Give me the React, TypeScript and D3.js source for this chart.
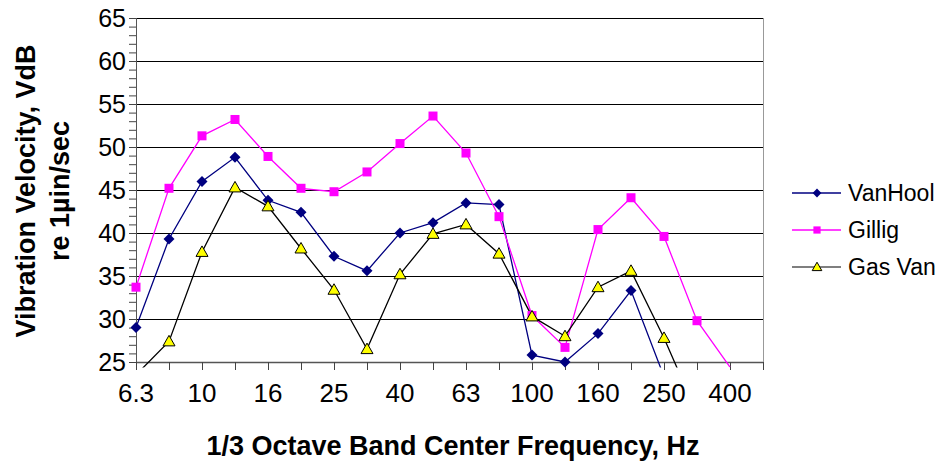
import React, { useEffect, useRef } from "react";
import * as d3 from "d3";

const freqs = ["6.3", "8", "10", "12.5", "16", "20", "25", "31.5", "40", "50", "63", "80", "100", "125", "160", "200", "250", "315", "400", "500"];
const vanHool = [29.0, 39.3, 46.0, 48.8, 43.8, 42.4, 37.3, 35.6, 40.0, 41.2, 43.5, 43.3, 25.8, 25.0, 28.3, 33.3, 23.3, null, null, null];
const gillig = [33.7, 45.2, 51.3, 53.2, 48.9, 45.2, 44.8, 47.1, 50.4, 53.6, 49.3, 41.9, 30.4, 26.7, 40.4, 44.1, 39.6, 29.8, 24.4, null];
const gasVan = [23.5, 27.4, 37.8, 45.3, 43.1, 38.2, 33.4, 26.5, 35.2, 39.9, 41.0, 37.6, 30.3, 28.0, 33.7, 35.6, 27.8, 19.0, null, null];
const yTicks = [25, 30, 35, 40, 45, 50, 55, 60, 65];

const seriesList = [
  { name: "VanHool", values: vanHool, color: "#000080", marker: "diamond", fill: "#000080", legendLine: "#000080" },
  { name: "Gillig", values: gillig, color: "#FF00FF", marker: "square", fill: "#FF00FF", legendLine: "#FF00FF" },
  { name: "Gas Van", values: gasVan, color: "#000000", marker: "triangle", fill: "#FFFF00", legendLine: "#555555" },
];

const FONT = "'Liberation Sans', Arial, sans-serif";

const App = () => {
  const ref = useRef<SVGSVGElement>(null);

  useEffect(() => {
    document.body.style.margin = "0";
    const width = 940;
    const height = 469;
    const margin = { top: 18, right: 177, bottom: 107, left: 136 };

    const svg = d3.select(ref.current);
    svg.selectAll("*").remove();
    svg.attr("width", width).attr("height", height);

    const x = d3.scalePoint<string>().domain(freqs).range([margin.left, width - margin.right]);
    const y = d3.scaleLinear().domain([25, 65]).range([height - margin.bottom, margin.top]);
    const x0 = margin.left;
    const x1 = width - margin.right;
    const yb = height - margin.bottom;

    svg.append("defs").append("clipPath").attr("id", "plotclip")
      .append("rect")
      .attr("x", x0 - 10).attr("y", margin.top)
      .attr("width", x1 - x0 + 10).attr("height", yb - margin.top + 5.5);

    // gridlines
    svg.append("g")
      .selectAll("line")
      .data(yTicks.slice(1))
      .join("line")
      .attr("x1", x0).attr("x2", x1)
      .attr("y1", d => Math.round(y(d)) + 0.5).attr("y2", d => Math.round(y(d)) + 0.5)
      .attr("stroke", "#000").attr("stroke-width", 1);

    // right border
    svg.append("line")
      .attr("x1", x1 + 0.5).attr("x2", x1 + 0.5)
      .attr("y1", margin.top).attr("y2", yb)
      .attr("stroke", "#999");

    // y axis with minor ticks
    const yAxis = svg.append("g").attr("transform", `translate(${x0},0)`);
    yAxis.append("g")
      .call(d3.axisLeft(y).ticks(40).tickSize(7).tickFormat(() => ""))
      .call(g => g.select(".domain").remove())
      .call(g => g.selectAll("line").attr("stroke", "#444"));
    yAxis.append("line").attr("x1", 0.5).attr("x2", 0.5).attr("y1", margin.top).attr("y2", yb).attr("stroke", "#555");
    yAxis.selectAll("text.lbl")
      .data(yTicks)
      .join("text")
      .attr("class", "lbl")
      .attr("x", -10)
      .attr("y", d => y(d))
      .attr("dy", "0.36em")
      .attr("text-anchor", "end")
      .attr("font-family", FONT)
      .attr("font-size", 25)
      .attr("fill", "#000")
      .text(d => d);

    // x axis
    const xAxis = svg.append("g").attr("transform", `translate(0,${yb})`);
    xAxis.append("line").attr("x1", x0).attr("x2", x1).attr("y1", 0.5).attr("y2", 0.5).attr("stroke", "#555").attr("stroke-width", 1.5);
    xAxis.selectAll("line.tick")
      .data(freqs)
      .join("line")
      .attr("class", "tick")
      .attr("x1", d => Math.round(x(d)!) + 0.5).attr("x2", d => Math.round(x(d)!) + 0.5)
      .attr("y1", 0).attr("y2", 8)
      .attr("stroke", "#444");
    xAxis.selectAll("text")
      .data(freqs.filter((_, i) => i % 2 === 0))
      .join("text")
      .attr("x", d => x(d)!)
      .attr("y", 40)
      .attr("text-anchor", "middle")
      .attr("font-family", FONT)
      .attr("font-size", 26)
      .attr("fill", "#000")
      .text(d => d);

    // series lines
    const plot = svg.append("g").attr("clip-path", "url(#plotclip)");
    seriesList.forEach(s => {
      const line = d3.line<number | null>()
        .defined(d => d !== null)
        .x((_, i) => x(freqs[i])!)
        .y(d => y(d as number));
      plot.append("path")
        .datum(s.values)
        .attr("d", line)
        .attr("fill", "none")
        .attr("stroke", s.color)
        .attr("stroke-width", 1.3);
    });

    const drawMarker = (g: any, kind: string, cx: number, cy: number, fill: string, small = false) => {
      const k = small ? 0.8 : 1;
      if (kind === "diamond") {
        const r = 5.5 * k;
        g.append("path").attr("d", `M${cx},${cy - r}L${cx + r},${cy}L${cx},${cy + r}L${cx - r},${cy}Z`).attr("fill", fill);
      } else if (kind === "square") {
        const r = 4.5 * k;
        g.append("rect").attr("x", cx - r).attr("y", cy - r).attr("width", 2 * r).attr("height", 2 * r).attr("fill", fill);
      } else {
        const r = 6 * k;
        g.append("path")
          .attr("d", `M${cx},${cy - r}L${cx + r},${cy + r * 0.75}L${cx - r},${cy + r * 0.75}Z`)
          .attr("fill", fill).attr("stroke", "#000").attr("stroke-width", 1);
      }
    };

    // markers
    const marks = svg.append("g");
    seriesList.forEach(s => {
      s.values.forEach((v, i) => {
        if (v === null || v < 25) return;
        drawMarker(marks, s.marker, x(freqs[i])!, y(v), s.fill);
      });
    });

    // legend
    const legend = svg.append("g");
    seriesList.forEach((s, i) => {
      const ly = 193 + i * 37;
      legend.append("line").attr("x1", 792).attr("x2", 841).attr("y1", ly).attr("y2", ly)
        .attr("stroke", s.legendLine).attr("stroke-width", 1.5);
      drawMarker(legend, s.marker, 817, ly, s.fill, true);
      legend.append("text")
        .attr("x", 848).attr("y", ly).attr("dy", "0.36em")
        .attr("font-family", FONT).attr("font-size", 23).attr("fill", "#000")
        .text(s.name);
    });

    // axis titles
    svg.append("text")
      .attr("x", 453).attr("y", 455)
      .attr("text-anchor", "middle")
      .attr("font-family", FONT).attr("font-size", 27).attr("font-weight", "bold")
      .text("1/3 Octave Band Center Frequency, Hz");

    const yt = svg.append("text")
      .attr("transform", "translate(0,191) rotate(-90)")
      .attr("text-anchor", "middle")
      .attr("font-family", FONT).attr("font-size", 27).attr("font-weight", "bold");
    yt.append("tspan").attr("x", 0).attr("y", 35).text("Vibration Velocity, VdB");
    yt.append("tspan").attr("x", 0).attr("y", 69).text("re 1\u00b5in/sec");
  }, []);

  return <svg ref={ref}></svg>;
};

export default App;
